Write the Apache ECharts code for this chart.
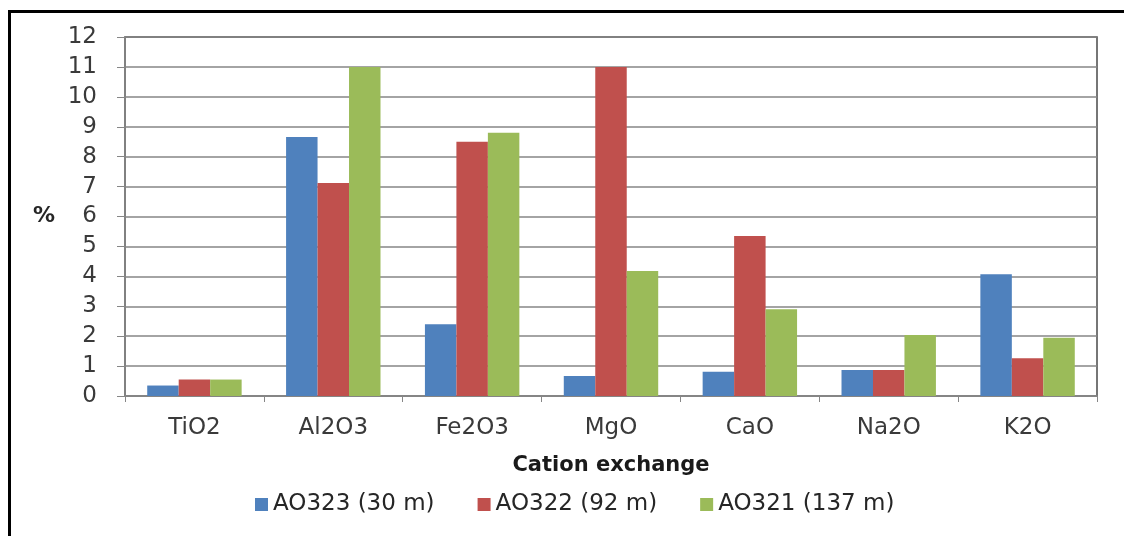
<!DOCTYPE html>
<html>
<head>
<meta charset="utf-8">
<script src="https://cdn.jsdelivr.net/npm/echarts@6/dist/echarts.min.js"></script>
<style>
html,body{margin:0;padding:0;background:#fff;}
#c{width:1124px;height:536px;}
</style>
</head>
<body>
<div id="c"></div>
<script>
var categories = ['TiO2', 'Al2O3', 'Fe2O3', 'MgO', 'CaO', 'Na2O', 'K2O'];
var seriesNames = ['AO323 (30 m)', 'AO322 (92 m)', 'AO321 (137 m)'];
var ao323 = [0.35, 8.66, 2.40, 0.67, 0.81, 0.87, 4.07];
var ao322 = [0.55, 7.12, 8.50, 11.0, 5.35, 0.87, 1.26];
var ao321 = [0.55, 11.0, 8.80, 4.18, 2.90, 2.04, 1.95];
var colors = ['#4F81BD', '#C0504D', '#9BBB59'];
var FONT = 'DejaVu Sans';

var chart = echarts.init(document.getElementById('c'), null, {renderer: 'canvas'});
chart.setOption({
  animation: false,
  textStyle: {fontFamily: FONT},
  graphic: [{
    type: 'rect', left: 7, top: 9, z: 100,
    shape: {x: 0, y: 0, width: 1200, height: 600},
    style: {fill: 'none', stroke: '#000', lineWidth: 3}
  }],
  grid: {
    left: 125, right: 27, top: 37, bottom: 140,
    show: true, borderColor: '#4a4a4a', borderWidth: 1.5, backgroundColor: 'transparent'
  },
  legend: {
    data: seriesNames,
    left: 250, top: 488,
    itemWidth: 13, itemHeight: 13, itemGap: 43,
    icon: 'rect',
    textStyle: {fontFamily: FONT, fontSize: 23, color: '#262626'}
  },
  xAxis: {
    type: 'category',
    data: categories,
    name: 'Cation exchange',
    nameLocation: 'middle',
    nameGap: 59,
    nameTextStyle: {fontFamily: FONT, fontSize: 21, fontWeight: 'bold', color: '#1a1a1a'},
    axisLine: {lineStyle: {color: '#868686', width: 1.5}},
    axisTick: {show: true, length: 6, lineStyle: {color: '#868686'}},
    axisLabel: {fontFamily: FONT, fontSize: 23, color: '#3a3a3a', margin: 21}
  },
  yAxis: {
    type: 'value',
    min: 0, max: 12, interval: 1,
    name: '%',
    nameLocation: 'middle',
    nameRotate: 0,
    nameGap: 70,
    nameTextStyle: {fontFamily: FONT, fontSize: 22, fontWeight: 'bold', color: '#262626'},
    axisLine: {show: true, lineStyle: {color: '#868686', width: 1.5}},
    axisTick: {show: true, length: 8, lineStyle: {color: '#868686'}},
    axisLabel: {fontFamily: FONT, fontSize: 23, color: '#3a3a3a', margin: 28},
    splitLine: {show: true, lineStyle: {color: '#868686', width: 1.5}}
  },
  series: [
    {name: seriesNames[0], type: 'bar', data: ao323, itemStyle: {color: colors[0]}, barGap: '0%', barCategoryGap: '32%'},
    {name: seriesNames[1], type: 'bar', data: ao322, itemStyle: {color: colors[1]}, barGap: '0%', barCategoryGap: '32%'},
    {name: seriesNames[2], type: 'bar', data: ao321, itemStyle: {color: colors[2]}, barGap: '0%', barCategoryGap: '32%'}
  ]
});
</script>
</body>
</html>
